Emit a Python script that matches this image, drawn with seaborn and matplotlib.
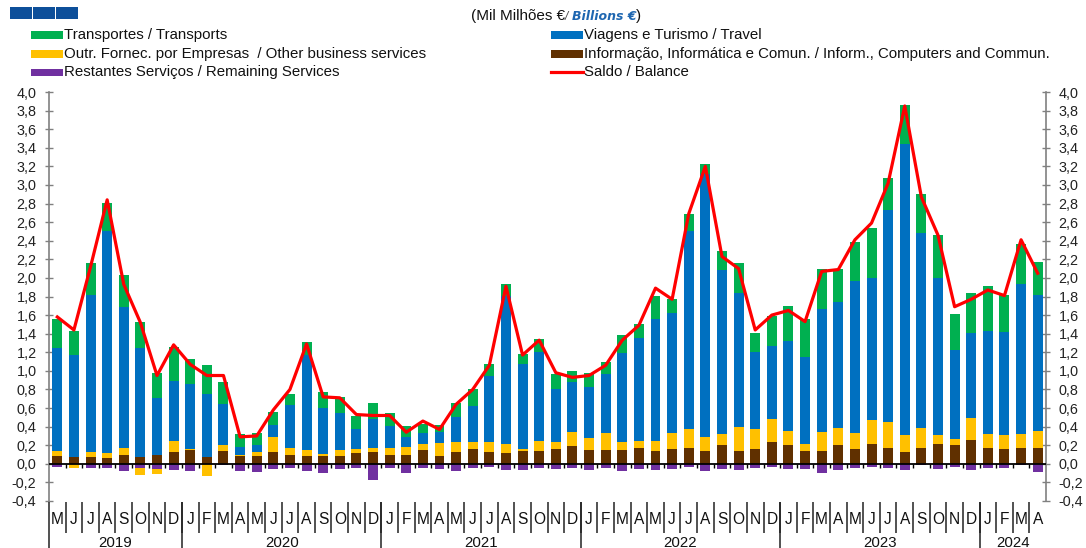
import numpy as np
import pandas as pd
import matplotlib
matplotlib.use("Agg")
import matplotlib.pyplot as plt
from matplotlib.patches import Rectangle
from matplotlib.lines import Line2D
from matplotlib import font_manager
import seaborn as sns

# ---------------- data (Mil Milhões € / Billions €) ----------------
months = (["M", "J", "J", "A", "S", "O", "N", "D"]
          + ["J", "F", "M", "A", "M", "J", "J", "A", "S", "O", "N", "D"] * 4
          + ["J", "F", "M", "A"])
years = ["2019", "2020", "2021", "2022", "2023", "2024"]
year_months = [8, 12, 12, 12, 12, 4]

informacao = [0.08, 0.07, 0.07, 0.06, 0.10, 0.07, 0.09, 0.13,
              0.145, 0.07, 0.14, 0.08, 0.08, 0.125, 0.09, 0.08, 0.08, 0.08, 0.115, 0.125,
              0.09, 0.10, 0.15, 0.08, 0.125, 0.155, 0.125, 0.115, 0.14, 0.14, 0.16, 0.19,
              0.145, 0.145, 0.145, 0.17, 0.135, 0.16, 0.17, 0.135, 0.20, 0.14, 0.16, 0.23,
              0.20, 0.14, 0.14, 0.20, 0.16, 0.215, 0.17, 0.13, 0.175, 0.215, 0.205, 0.26,
              0.175, 0.16, 0.17, 0.175]
outr_fornec = [0.06, -0.05, 0.06, 0.06, 0.07, -0.075, -0.055, 0.12,
               0.015, -0.13, 0.06, 0.02, 0.045, 0.165, 0.08, 0.07, 0.03, 0.065, 0.045, 0.045,
               0.08, 0.08, 0.065, 0.14, 0.105, 0.085, 0.115, 0.095, 0.015, 0.11, 0.07, 0.15,
               0.135, 0.185, 0.095, 0.08, 0.115, 0.17, 0.20, 0.155, 0.12, 0.26, 0.21, 0.25,
               0.15, 0.07, 0.20, 0.18, 0.17, 0.255, 0.28, 0.175, 0.205, 0.09, 0.065, 0.23,
               0.145, 0.15, 0.15, 0.18]
viagens = [1.11, 1.10, 1.69, 2.38, 1.52, 1.18, 0.62, 0.64,
           0.70, 0.68, 0.44, 0.08, 0.075, 0.13, 0.46, 1.02, 0.49, 0.405, 0.21, 0.31,
           0.24, 0.11, 0.115, 0.12, 0.27, 0.38, 0.70, 1.60, 0.915, 0.95, 0.57, 0.54,
           0.55, 0.64, 0.95, 1.10, 1.31, 1.29, 2.13, 2.83, 1.77, 1.44, 0.83, 0.79,
           0.97, 0.94, 1.33, 1.36, 1.64, 1.53, 2.28, 3.135, 2.10, 1.695, 0.95, 0.92,
           1.11, 1.11, 1.61, 1.465]
transportes = [0.31, 0.26, 0.34, 0.31, 0.34, 0.28, 0.27, 0.37,
               0.27, 0.31, 0.24, 0.14, 0.13, 0.14, 0.12, 0.14, 0.17, 0.17, 0.14, 0.17,
               0.14, 0.12, 0.10, 0.08, 0.15, 0.18, 0.13, 0.12, 0.115, 0.14, 0.17, 0.12,
               0.15, 0.13, 0.20, 0.15, 0.25, 0.15, 0.19, 0.11, 0.20, 0.32, 0.21, 0.32,
               0.38, 0.41, 0.43, 0.36, 0.42, 0.54, 0.34, 0.42, 0.42, 0.46, 0.39, 0.43,
               0.48, 0.40, 0.44, 0.35]
restantes = [-0.03, 0.0, -0.04, -0.05, -0.075, -0.045, -0.055, -0.065,
             -0.075, 0.0, -0.01, -0.075, -0.09, -0.055, -0.04, -0.075, -0.095, -0.06, -0.04, -0.17,
             -0.045, -0.10, -0.045, -0.06, -0.08, -0.045, -0.035, -0.065, -0.065, -0.045, -0.06, -0.045,
             -0.07, -0.045, -0.08, -0.06, -0.07, -0.055, -0.035, -0.075, -0.055, -0.065, -0.045, -0.03,
             -0.06, -0.06, -0.10, -0.07, -0.045, -0.03, -0.04, -0.065, -0.01, -0.055, -0.035, -0.07,
             -0.045, -0.04, -0.01, -0.085]
saldo = [1.58, 1.44, 2.12, 2.84, 1.93, 1.52, 0.95, 1.28,
         1.07, 0.95, 0.95, 0.29, 0.30, 0.58, 0.80, 1.29, 0.72, 0.71, 0.53, 0.52,
         0.52, 0.34, 0.46, 0.37, 0.64, 0.80, 1.06, 1.91, 1.17, 1.33, 0.98, 0.93,
         0.95, 1.06, 1.33, 1.49, 1.89, 1.77, 2.69, 3.20, 2.23, 2.10, 1.44, 1.60,
         1.65, 1.53, 2.07, 2.09, 2.41, 2.59, 3.02, 3.85, 2.87, 2.46, 1.69, 1.77,
         1.87, 1.81, 2.41, 2.05]

# ---------------- styling ----------------
C_GREEN = "#00B050"
C_BLUE = "#0070C0"
C_YELLOW = "#FFC000"
C_BROWN = "#603000"
C_PURPLE = "#7030A0"
C_RED = "#FF0000"
C_LOGO = "#0D4F9A"

avail = {f.name for f in font_manager.fontManager.ttflist}
BASE = "Liberation Sans" if "Liberation Sans" in avail else "DejaVu Sans"
NARROW = "Liberation Sans Narrow" if "Liberation Sans Narrow" in avail else BASE
plt.rcParams["font.family"] = [BASE, "DejaVu Sans"]

W, H = 1086, 548
fig = plt.figure(figsize=(W / 100, H / 100), dpi=100)
ax = fig.add_axes([49 / W, (H - 501) / H, (1046 - 49) / W, (501 - 92) / H])

n = len(months)
df = pd.DataFrame({
    "pos": np.arange(n),
    "info": informacao,
    "outr": outr_fornec,
    "viag": viagens,
    "transp": transportes,
    "rest": restantes,
    "saldo": saldo,
})
ypos = df["outr"].clip(lower=0)
yneg = df["outr"].clip(upper=0)
df["L1"] = df["info"]
df["L2"] = df["L1"] + ypos
df["L3"] = df["L2"] + df["viag"]
df["L4"] = df["L3"] + df["transp"]
df["N1"] = df["rest"]
df["N2"] = df["rest"] + yneg

BW = 0.6
for col, c in [("L4", C_GREEN), ("L3", C_BLUE), ("L2", C_YELLOW), ("L1", C_BROWN),
               ("N2", C_YELLOW), ("N1", C_PURPLE)]:
    sns.barplot(data=df, x="pos", y=col, color=c, width=BW, saturation=1,
                errorbar=None, linewidth=0, ax=ax, zorder=2)

sns.lineplot(data=df, x="pos", y="saldo", color=C_RED, linewidth=2.3, ax=ax,
             zorder=6, legend=False)

ax.set_xlim(-0.5, n - 0.5)
ax.set_ylim(-0.4, 4.0)
ax.set_xlabel("")
ax.set_ylabel("")

# zero line with month ticks
ax.axhline(0, color="black", lw=1.3, zorder=5)
bounds = np.arange(n - 1) + 0.5
ax.vlines(bounds, -0.045, 0, color="black", lw=1.0, zorder=5)

# y axis both sides
yt = np.round(np.arange(-0.4, 4.001, 0.2), 1)
ax.set_yticks(yt)
ax.set_yticklabels([f"{v:.1f}".replace(".", ",").replace("-0,0", "0,0") for v in yt])
ax.tick_params(axis="y", left=True, right=True, labelleft=True, labelright=True,
               direction="inout", length=6, width=1.0, color="#808080", pad=6,
               labelsize=10.4, labelcolor="#222222")
ax.set_xticks([])
for s in ["top", "bottom"]:
    ax.spines[s].set_visible(False)
for s in ["left", "right"]:
    ax.spines[s].set_color("#808080")
    ax.spines[s].set_linewidth(1.2)

# month labels and separators below axis
trans = ax.get_xaxis_transform()
axh = 501 - 92
def frac(ypix):
    return (501 - ypix) / axh

for i, m in enumerate(months):
    ax.text(i, frac(523.5), m, transform=trans, ha="center", va="baseline",
            fontsize=11.2, family=[NARROW, "DejaVu Sans"], color="#111111")
ax.vlines(bounds, frac(533), frac(502), transform=trans, color="#222222",
          lw=1.1, clip_on=False)
start = 0
ybounds = [-0.5]
for yr, k in zip(years, year_months):
    ax.text(start + (k - 1) / 2, frac(547), yr, transform=trans, ha="center",
            va="baseline", fontsize=10.8, color="#111111")
    start += k
    ybounds.append(start - 0.5)
ax.vlines(ybounds[:-1], frac(548), frac(502), transform=trans, color="#222222",
          lw=1.1, clip_on=False)

# ---------------- header: logo, unit, legend ----------------
def fx(px):
    return px / W

def fy(py):
    return 1 - py / H

for x0 in [10, 33, 56]:
    fig.add_artist(Rectangle((fx(x0), fy(19)), 22 / W, 12 / H, color=C_LOGO,
                             transform=fig.transFigure, lw=0))

fig.text(fx(471), fy(16), "(Mil Milhões €", fontsize=11, va="center", ha="left",
         color="#111111")
fig.text(fx(565), fy(16.5), "/", fontsize=8.5, va="center", ha="left",
         color="#444444", style="italic")
fig.text(fx(572), fy(16.5), "Billions €", fontsize=9.0, va="center", ha="left",
         color="#1F67B1", style="italic", weight="bold", family=["DejaVu Sans"])
fig.text(fx(636), fy(16), ")", fontsize=11, va="center", ha="left",
         color="#111111")

legend_items = [
    (31, 35, C_GREEN, "Transportes / Transports", "patch"),
    (31, 54, C_YELLOW, "Outr. Fornec. por Empresas  / Other business services", "patch"),
    (31, 72, C_PURPLE, "Restantes Serviços / Remaining Services", "patch"),
    (551, 35, C_BLUE, "Viagens e Turismo / Travel", "patch"),
    (551, 54, C_BROWN, "Informação, Informática e Comun. / Inform., Computers and Commun.", "patch"),
    (551, 72, C_RED, "Saldo / Balance", "line"),
]
for x0, yc, c, label, kind in legend_items:
    if kind == "patch":
        fig.add_artist(Rectangle((fx(x0), fy(yc + 3.5)), 32 / W, 7 / H, color=c,
                                 transform=fig.transFigure, lw=0))
    else:
        fig.add_artist(Line2D([fx(x0), fx(x0 + 32)], [fy(yc), fy(yc)], color=c,
                              lw=2.3, transform=fig.transFigure))
    fig.text(fx(x0 + 33), fy(yc), label, fontsize=10.8, va="center", ha="left",
             color="#111111")

fig.savefig("out.png", dpi=100)
